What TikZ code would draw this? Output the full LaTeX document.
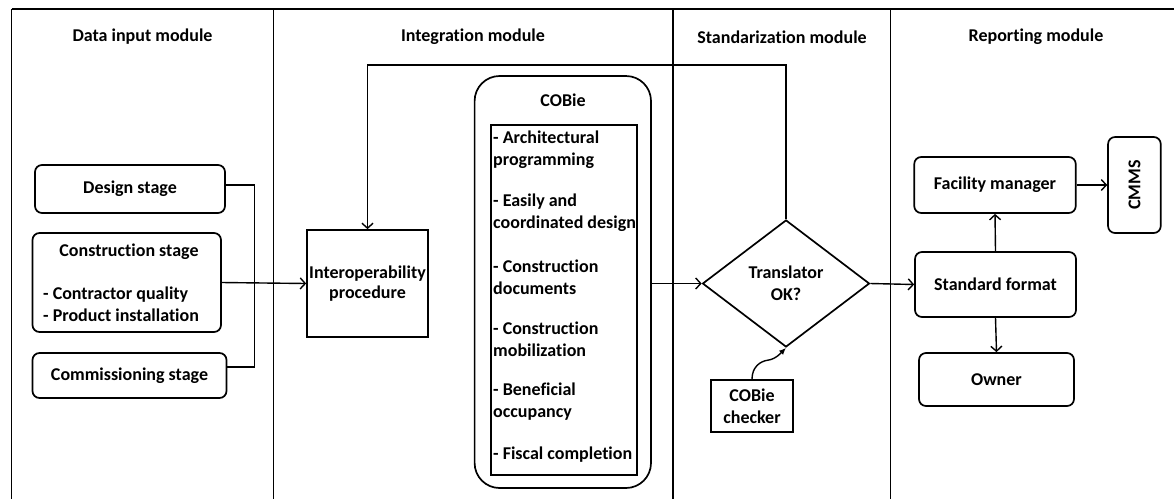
\documentclass[tikz,border=0pt]{standalone}
\usepackage{fontspec}
\setmainfont{Carlito}[Ligatures=NoCommon]
\usetikzlibrary{arrows.meta,shapes.geometric,calc}
\tikzset{
  every node/.style={font=\bfseries\fontsize{18}{22}\selectfont, inner sep=0pt},
  framel/.style={line width=1.7pt},
  rbox/.style={draw, line width=1.7pt, rounded corners=7pt, align=center},
  sbox/.style={draw, line width=1.7pt, align=center},
  arr/.style={line width=1.4pt, -{Straight Barb[length=5pt,width=11pt,line width=1.4pt]}},
  conn/.style={line width=1.4pt},
  lbl/.style={align=left, anchor=west},
}
\begin{document}
\begin{tikzpicture}[x=1pt,y=-1pt]
\useasboundingbox (0,0) rectangle (1174,499);
% frame
\draw[line width=2.6pt] (11.5,9) -- (1174,9);
\draw[framel] (11.5,9) -- (11.5,499);
\draw[framel] (273.6,9) -- (273.6,499);
\draw[framel] (672.8,9) -- (672.8,499);
\draw[framel] (890.6,9) -- (890.6,499);
% headings
\node (h1) at (142.5,37) {Data input module};
\node (h2) at (473,37) {Integration module};
\node (h3) at (782,37) {Standarization module};
\node (h4) at (1036,37) {Reporting module};
% data input
\node[rbox, minimum width=190pt, minimum height=48pt] (design) at (130,189) {Design stage};
\node[rbox, minimum width=188.5pt, minimum height=99pt] (constr) at (126.75,282.5) {};
\node (constrt) at (129,252) {Construction stage};
\node[lbl] (constri) at (43,304) {- Contractor quality\\- Product installation};
\node[rbox, minimum width=194pt, minimum height=45pt] (comm) at (129.5,375.5) {Commissioning stage};
\coordinate (jx) at (254.5,282);
\draw[conn] ([yshift=4pt]design.east) -| (jx);
\draw[conn] ([yshift=8.5pt]comm.east) -| (jx);
% integration
\node[sbox, minimum width=121pt, minimum height=107pt] (interop) at (367.5,283.5) {Interoperability\\[-2pt]procedure};
\draw[arr] (constr.east) -- (interop.west);
\draw[line width=1.7pt, rounded corners=25pt] (474.6,76) rectangle (651,488);
\node[minimum width=176.4pt, minimum height=412pt] (cobie) at (562.8,282) {};
\node (cobiet) at (563,100) {COBie};
\node[draw, line width=1.7pt, minimum width=146pt, minimum height=350pt] (inner) at (564,300) {};
\node[lbl] (i1) at (493,150) {- Architectural\\programming};
\node[lbl] (i2) at (493,213) {- Easily and\\coordinated design};
\node[lbl] (i3) at (493,277) {- Construction\\documents};
\node[lbl] (i4) at (493,339) {- Construction\\mobilization};
\node[lbl] (i5) at (493,402) {- Beneficial\\occupancy};
\node[lbl] (i6) at (493,455) {- Fiscal completion};
% standarization
\node[diamond, draw, line width=1.7pt, aspect=1.315, minimum width=167pt, minimum height=127pt, align=center] (dia) at (786,283.5) {Translator\\OK?};
\draw[arr] (cobie.east |- dia.west) -- (dia.west);
\coordinate (fbtop) at (367.5,65);
\draw[arr] (dia.north) |- (fbtop) -- (interop.north);
\node[sbox, minimum width=82.6pt, minimum height=52pt] (checker) at (752,406) {COBie\\checker};
\draw[line width=1.4pt, -{Latex[length=7pt,width=6pt]}] (checker.north) .. controls ++(0,-12) and ++(-8,1) .. ++(16,-19) .. controls ++(8,-1) and ++(-4,4) .. (dia.south);
% reporting
\node[rbox, minimum width=161pt, minimum height=65pt] (std) at (995.5,284.5) {Standard format};
\node[rbox, minimum width=161.5pt, minimum height=56pt] (fm) at (995,185) {Facility manager};
\node[rbox, minimum width=52.7pt, minimum height=96pt] (cmms) at (1134.4,185) {};
\node[rotate=90] (cmmst) at (cmms.center) {CMMS};
\node[rbox, minimum width=155pt, minimum height=53pt] (owner) at (996.5,379.5) {Owner};
\draw[arr] (dia.east) -- (std.west);
\draw[arr] (std.north) -- (fm.south);
\draw[arr] (std.south) -- (owner.north);
\draw[arr] (fm.east) -- (cmms.west);
\end{tikzpicture}
\end{document}
